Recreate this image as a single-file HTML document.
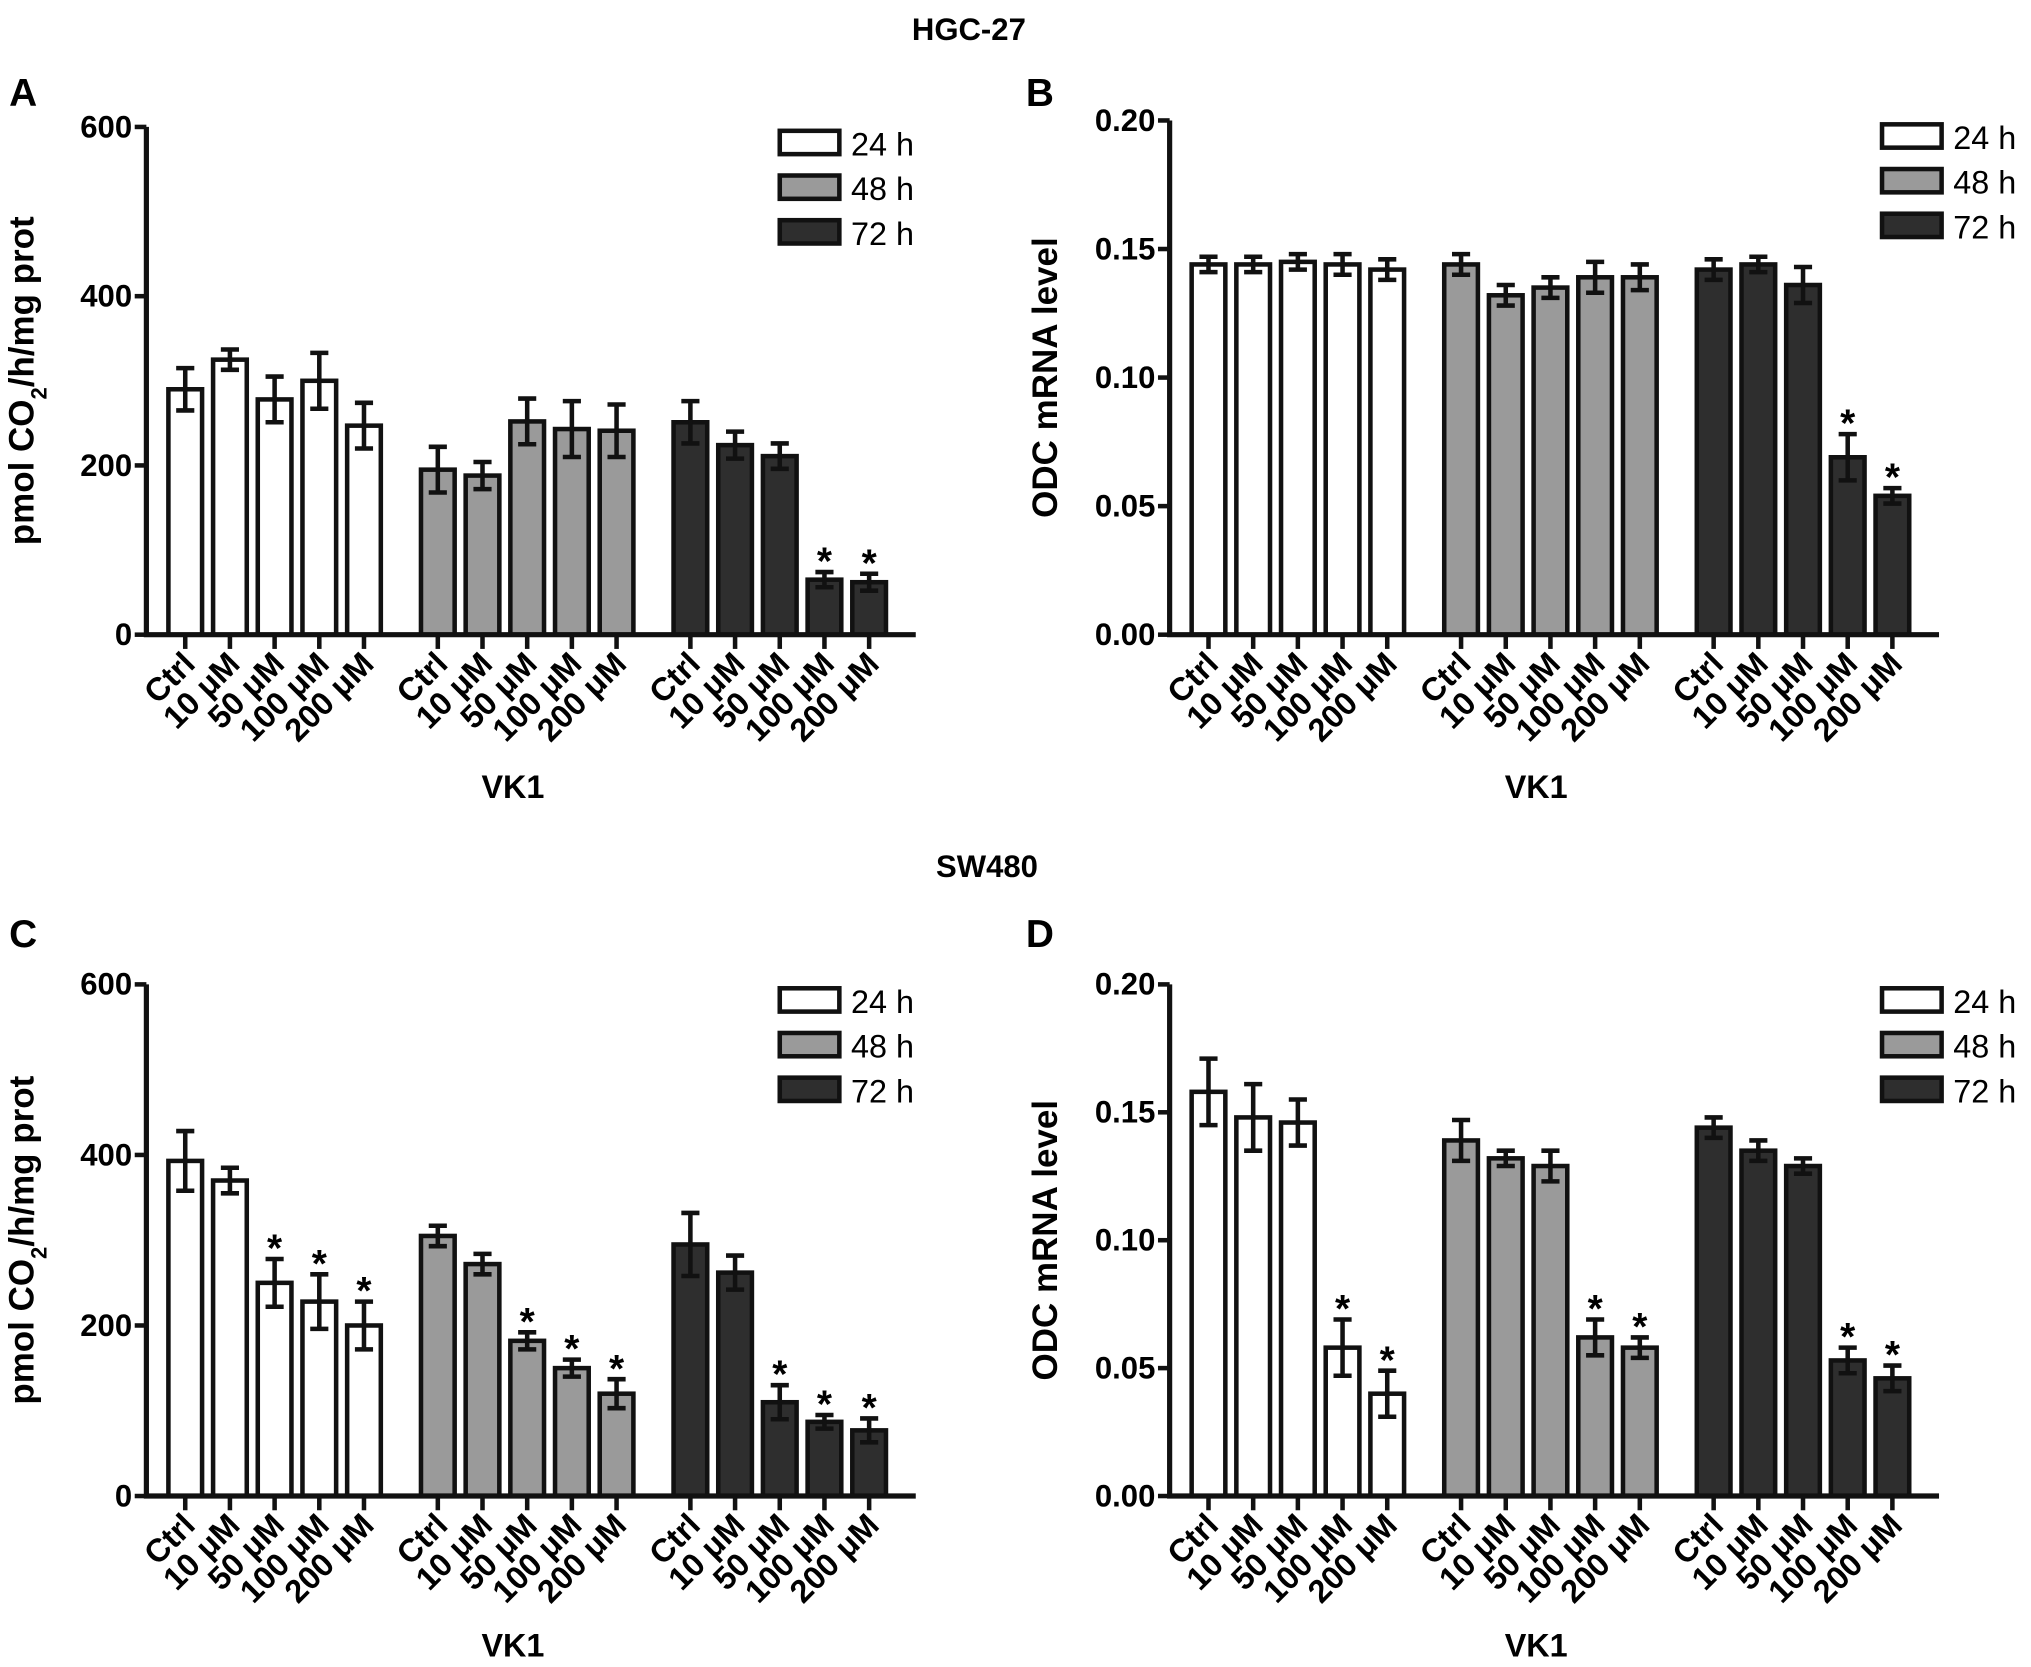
<!DOCTYPE html>
<html><head><meta charset="utf-8"><style>
html,body{margin:0;padding:0;background:#fff;}
svg{display:block;font-family:"Liberation Sans",Arial,sans-serif;}
</style></head><body>
<svg id="fig" width="2031" height="1667" viewBox="0 0 1568 1287" xmlns="http://www.w3.org/2000/svg">
<text x="748" y="31" text-anchor="middle" font-size="24" font-weight="bold">HGC-27</text>
<text x="762" y="677" text-anchor="middle" font-size="24" font-weight="bold">SW480</text>
<text x="7" y="82" font-size="30" font-weight="bold">A</text>
<text x="792" y="82" font-size="30" font-weight="bold">B</text>
<text x="7" y="731" font-size="30" font-weight="bold">C</text>
<text x="792" y="731" font-size="30" font-weight="bold">D</text>
</svg>
<script>
const categories = ["Ctrl","10 μM","50 μM","100 μM","200 μM"];
const seriesNames = ["24 h","48 h","72 h"];
const aVals = [[290,325,278,300,247],[195,188,252,243,241],[251,224,211,65,62]];
const aErr  = [[25,12,27,33,27],[27,16,27,33,31],[25,16,15,9,10]];
const aSig  = [[0,0,0,0,0],[0,0,0,0,0],[0,0,0,1,1]];
const bVals = [[0.144,0.144,0.145,0.144,0.142],[0.144,0.132,0.135,0.139,0.139],[0.142,0.144,0.136,0.069,0.054]];
const bErr  = [[0.003,0.003,0.003,0.004,0.004],[0.004,0.004,0.004,0.006,0.005],[0.004,0.003,0.007,0.009,0.003]];
const bSig  = [[0,0,0,0,0],[0,0,0,0,0],[0,0,0,1,1]];
const cVals = [[393,370,250,228,200],[305,272,182,150,120],[295,262,110,87,77]];
const cErr  = [[35,15,28,32,28],[12,12,10,10,17],[37,20,20,8,14]];
const cSig  = [[0,0,1,1,1],[0,0,1,1,1],[0,0,1,1,1]];
const dVals = [[0.158,0.148,0.146,0.058,0.040],[0.139,0.132,0.129,0.062,0.058],[0.144,0.135,0.129,0.053,0.046]];
const dErr  = [[0.013,0.013,0.009,0.011,0.009],[0.008,0.003,0.006,0.007,0.004],[0.004,0.004,0.003,0.005,0.005]];
const dSig  = [[0,0,0,1,1],[0,0,0,1,1],[0,0,0,1,1]];
const ticksPmol = ["0","200","400","600"];
const ticksOdc = ["0.00","0.05","0.10","0.15","0.20"];

const NS="http://www.w3.org/2000/svg";
const svg=document.getElementById('fig');
const fills=["#ffffff","#9a9a9a","#2e2e2e"];
function mk(tag,attrs,parent){const e=document.createElementNS(NS,tag);for(const k in attrs)e.setAttribute(k,attrs[k]);(parent||svg).appendChild(e);return e;}

function panel(id,ox,top,bottom,ymax,ticks,vals,errs,sigs,ytitle,legX,vkY){
  const g=mk('g',{});
  
  
  const axX=ox, xEnd=ox+594;
  const y=v=>bottom-(v/ymax)*(bottom-top);
  const groupStart=[ox+30,ox+225,ox+420];
  const step=34.5, bw=26;
  for(let s=0;s<3;s++){
    for(let i=0;i<5;i++){
      const cx=groupStart[s]+i*step, v=vals[s][i], e=errs[s][i];
      const r=mk('rect',{x:cx-bw/2,y:y(v),width:bw,height:bottom-y(v),fill:fills[s],stroke:'#111','stroke-width':3.5},g);
      
      
      const eb=mk('path',{d:`M${cx} ${y(v-e)}V${y(v+e)}M${cx-7} ${y(v+e)}H${cx+7}M${cx-7} ${y(v-e)}H${cx+7}`,stroke:'#111','stroke-width':3.5,fill:'none'},g);
      
      
      if(sigs[s][i]){
        const t=mk('text',{x:cx,y:y(v+e)+2,'text-anchor':'middle','font-size':30,'font-weight':'bold'},g);
        t.textContent='*';
        
        
      }
      mk('line',{x1:cx,y1:bottom,x2:cx,y2:bottom+11,stroke:'#111','stroke-width':3.5},g);
      const lx=cx+9, ly=bottom+24;
      const lb=mk('text',{x:lx,y:ly,'text-anchor':'end','font-size':25,'font-weight':'bold',transform:`rotate(-45 ${lx} ${ly})`},g);
      lb.textContent=categories[i];
      
      
    }
  }
  const ax=mk('path',{d:`M${axX} ${top}V${bottom}H${xEnd}`,stroke:'#111','stroke-width':4,fill:'none'},g);
  
  
  ticks.forEach((t,k)=>{
    const ty=bottom-k*(bottom-top)/(ticks.length-1);
    mk('line',{x1:axX-9,y1:ty,x2:axX,y2:ty,stroke:'#111','stroke-width':3.5},g);
    const tl=mk('text',{x:axX-11,y:ty+8,'text-anchor':'end','font-size':24,'font-weight':'bold'},g);
    tl.textContent=t;
    
    
  });
  const tx=ox-87, tyy=(top+bottom)/2;
  const yt=mk('text',{x:tx,y:tyy,'text-anchor':'middle','font-size':27,'font-weight':'bold',transform:`rotate(-90 ${tx} ${tyy})`},g);
  yt.innerHTML=ytitle;
  
  
  const xt=mk('text',{x:ox+283,y:vkY,'text-anchor':'middle','font-size':25,'font-weight':'bold'},g);
  xt.textContent='VK1';
  
  
  for(let s=0;s<3;s++){
    const ly=top+3+s*34.5;
    const lr=mk('rect',{x:legX,y:ly,width:46,height:18,fill:fills[s],stroke:'#111','stroke-width':3.5},g);
    
    
    const lt=mk('text',{x:legX+55,y:ly+19,'font-size':25},g);
    lt.textContent=seriesNames[s];
    
    
  }
}
const pm='pmol CO<tspan baseline-shift="sub" font-size="17">2</tspan>/h/mg prot';
panel('a',113,98,490,600,ticksPmol,aVals,aErr,aSig,pm,602,616);
panel('b',903,93,490,0.20,ticksOdc,bVals,bErr,bSig,'ODC mRNA level',1453,616);
panel('c',113,760,1155,600,ticksPmol,cVals,cErr,cSig,pm,602,1279);
panel('d',903,760,1155,0.20,ticksOdc,dVals,dErr,dSig,'ODC mRNA level',1453,1279);
</script>
</body></html>
